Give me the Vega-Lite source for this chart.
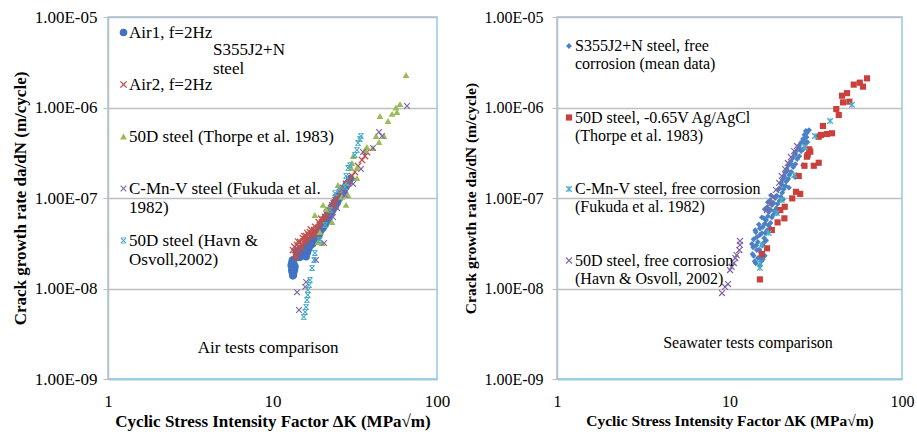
{
  "$schema": "https://vega.github.io/schema/vega-lite/v6.json",
  "padding": {"left": 10, "top": 7, "right": 5, "bottom": 5},
  "spacing": 12,
  "resolve": {
    "scale": {"x": "independent", "y": "independent", "color": "independent", "shape": "independent", "size": "independent"},
    "legend": {"color": "independent", "shape": "independent"}
  },
  "hconcat": [
    {
      "width": 329,
      "height": 362,
      "layer": [
        {
          "data": {
            "values": [
              {"s": "Air1", "k": 13.2, "r": 2.05e-8}, {"s": "Air1", "k": 13.1, "r": 1.9e-8}, {"s": "Air1", "k": 13.2, "r": 1.75e-8},
              {"s": "Air1", "k": 13.1, "r": 1.6e-8}, {"s": "Air1", "k": 13.2, "r": 1.5e-8}, {"s": "Air1", "k": 13.4, "r": 1.42e-8},
              {"s": "Air1", "k": 13.5, "r": 1.55e-8}, {"s": "Air1", "k": 13.4, "r": 1.7e-8}, {"s": "Air1", "k": 13.5, "r": 1.85e-8},
              {"s": "Air1", "k": 13.3, "r": 1.95e-8}, {"s": "Air1", "k": 13.6, "r": 1.62e-8}, {"s": "Air1", "k": 13.3, "r": 1.38e-8},
              {"s": "Air1", "k": 13.5, "r": 2.1e-8}, {"s": "Air1", "k": 13.0, "r": 1.8e-8}, {"s": "Air1", "k": 13.7, "r": 1.75e-8},
              {"s": "Air1", "k": 14.2, "r": 2.35e-8}, {"s": "Air1", "k": 14.3, "r": 2.55e-8},
              {"s": "Air1", "k": 14.6, "r": 2.7e-8}, {"s": "Air1", "k": 14.8, "r": 2.45e-8}, {"s": "Air1", "k": 15.0, "r": 2.3e-8},
              {"s": "Air1", "k": 15.2, "r": 2.6e-8}, {"s": "Air1", "k": 15.5, "r": 2.4e-8}, {"s": "Air1", "k": 15.7, "r": 2.55e-8},
              {"s": "Air1", "k": 15.9, "r": 2.35e-8}, {"s": "Air1", "k": 16.1, "r": 2.65e-8}, {"s": "Air1", "k": 15.3, "r": 2.85e-8},
              {"s": "Air1", "k": 16.4, "r": 2.9e-8}, {"s": "Air1", "k": 16.8, "r": 3.05e-8}, {"s": "Air1", "k": 16.2, "r": 3.2e-8},
              {"s": "Air1", "k": 17.0, "r": 3.4e-8}, {"s": "Air1", "k": 17.3, "r": 3.2e-8}, {"s": "Air1", "k": 17.5, "r": 3.6e-8},
              {"s": "Air1", "k": 17.8, "r": 3.45e-8}, {"s": "Air1", "k": 18.0, "r": 3.9e-8}, {"s": "Air1", "k": 18.3, "r": 3.7e-8},
              {"s": "Air1", "k": 18.6, "r": 4.2e-8}, {"s": "Air1", "k": 18.9, "r": 4.0e-8}, {"s": "Air1", "k": 19.2, "r": 4.5e-8},
              {"s": "Air1", "k": 19.5, "r": 4.3e-8}, {"s": "Air1", "k": 19.8, "r": 5.0e-8}, {"s": "Air1", "k": 20.1, "r": 4.8e-8},
              {"s": "Air1", "k": 20.4, "r": 5.5e-8}, {"s": "Air1", "k": 20.8, "r": 5.3e-8}, {"s": "Air1", "k": 21.0, "r": 6.1e-8},
              {"s": "Air1", "k": 21.4, "r": 5.9e-8}, {"s": "Air1", "k": 21.7, "r": 6.7e-8}, {"s": "Air1", "k": 22.1, "r": 6.4e-8},
              {"s": "Air1", "k": 22.4, "r": 7.4e-8}, {"s": "Air1", "k": 22.8, "r": 7.1e-8}, {"s": "Air1", "k": 23.2, "r": 8.2e-8},
              {"s": "Air1", "k": 23.6, "r": 7.9e-8}, {"s": "Air1", "k": 23.9, "r": 9.0e-8}, {"s": "Air1", "k": 24.4, "r": 8.8e-8},
              {"s": "Air1", "k": 24.7, "r": 9.9e-8}, {"s": "Air1", "k": 25.2, "r": 9.7e-8}, {"s": "Air1", "k": 25.6, "r": 1.09e-7},
              {"s": "Air1", "k": 26.1, "r": 1.06e-7}, {"s": "Air1", "k": 26.5, "r": 1.19e-7}, {"s": "Air1", "k": 27.0, "r": 1.17e-7},
              {"s": "Air1", "k": 27.4, "r": 1.3e-7}, {"s": "Air1", "k": 28.0, "r": 1.33e-7}, {"s": "Air1", "k": 28.5, "r": 1.44e-7},
              {"s": "Air1", "k": 29.2, "r": 1.52e-7}, {"s": "Air1", "k": 29.8, "r": 1.64e-7},
              {"s": "Air1", "k": 14.0, "r": 2.6e-8}, {"s": "Air1", "k": 14.5, "r": 2.4e-8}, {"s": "Air1", "k": 14.9, "r": 2.75e-8},
              {"s": "Air1", "k": 15.4, "r": 2.7e-8}, {"s": "Air1", "k": 15.8, "r": 2.8e-8}, {"s": "Air1", "k": 16.3, "r": 2.5e-8},
              {"s": "Air1", "k": 16.6, "r": 2.75e-8}, {"s": "Air1", "k": 17.1, "r": 3.0e-8}, {"s": "Air1", "k": 17.6, "r": 3.15e-8},
              {"s": "Air1", "k": 18.1, "r": 3.4e-8}, {"s": "Air1", "k": 18.5, "r": 3.55e-8}, {"s": "Air1", "k": 18.9, "r": 3.8e-8},
              {"s": "Air1", "k": 19.3, "r": 4.0e-8}, {"s": "Air1", "k": 19.8, "r": 4.5e-8}, {"s": "Air1", "k": 20.3, "r": 4.7e-8},
              {"s": "Air1", "k": 20.9, "r": 5.1e-8}, {"s": "Air1", "k": 21.5, "r": 5.6e-8}, {"s": "Air1", "k": 22.0, "r": 6.0e-8},
              {"s": "Air1", "k": 22.6, "r": 6.6e-8}, {"s": "Air1", "k": 23.3, "r": 7.4e-8}, {"s": "Air1", "k": 24.0, "r": 8.0e-8},
              {"s": "Air1", "k": 24.8, "r": 9.0e-8}, {"s": "Air1", "k": 25.5, "r": 1.0e-7}, {"s": "Air1", "k": 26.3, "r": 1.1e-7},
              {"s": "Air1", "k": 27.2, "r": 1.22e-7}, {"s": "Air1", "k": 28.1, "r": 1.4e-7}, {"s": "Air1", "k": 14.6, "r": 2.2e-8},
              {"s": "Air1", "k": 16.0, "r": 2.25e-8},

              {"s": "Air2", "k": 13.3, "r": 2.66e-8}, {"s": "Air2", "k": 13.7, "r": 2.34e-8}, {"s": "Air2", "k": 14.1, "r": 3.03e-8},
              {"s": "Air2", "k": 14.7, "r": 3.27e-8}, {"s": "Air2", "k": 15.1, "r": 2.8e-8}, {"s": "Air2", "k": 15.3, "r": 3.61e-8},
              {"s": "Air2", "k": 16.0, "r": 3.8e-8}, {"s": "Air2", "k": 16.4, "r": 3.44e-8}, {"s": "Air2", "k": 16.9, "r": 4.2e-8},
              {"s": "Air2", "k": 17.4, "r": 3.8e-8}, {"s": "Air2", "k": 17.9, "r": 4.43e-8}, {"s": "Air2", "k": 18.4, "r": 4.1e-8},
              {"s": "Air2", "k": 18.9, "r": 4.67e-8}, {"s": "Air2", "k": 19.4, "r": 5.04e-8}, {"s": "Air2", "k": 20.0, "r": 5.43e-8},
              {"s": "Air2", "k": 20.9, "r": 6.17e-8}, {"s": "Air2", "k": 21.7, "r": 7.0e-8}, {"s": "Air2", "k": 22.7, "r": 7.76e-8},
              {"s": "Air2", "k": 23.6, "r": 8.8e-8}, {"s": "Air2", "k": 24.7, "r": 1.03e-7}, {"s": "Air2", "k": 25.7, "r": 1.16e-7},
              {"s": "Air2", "k": 26.8, "r": 1.29e-7}, {"s": "Air2", "k": 28.0, "r": 1.43e-7}, {"s": "Air2", "k": 29.2, "r": 1.58e-7},
              {"s": "Air2", "k": 30.4, "r": 1.75e-7}, {"s": "Air2", "k": 31.7, "r": 1.94e-7}, {"s": "Air2", "k": 33.1, "r": 2.26e-7},
              {"s": "Air2", "k": 35.0, "r": 2.63e-7}, {"s": "Air2", "k": 36.5, "r": 2.91e-7}, {"s": "Air2", "k": 37.5, "r": 3.22e-7},
              {"s": "Air2", "k": 14.4, "r": 2.6e-8}, {"s": "Air2", "k": 15.6, "r": 3.2e-8}, {"s": "Air2", "k": 14.0, "r": 2.45e-8},
              {"s": "Air2", "k": 16.6, "r": 3.9e-8}, {"s": "Air2", "k": 15.8, "r": 3.5e-8},
              {"s": "Air2", "k": 13.6, "r": 2.9e-8}, {"s": "Air2", "k": 14.3, "r": 3.3e-8}, {"s": "Air2", "k": 14.9, "r": 3.1e-8},
              {"s": "Air2", "k": 15.6, "r": 3.8e-8}, {"s": "Air2", "k": 16.3, "r": 4.1e-8}, {"s": "Air2", "k": 17.1, "r": 4.5e-8},
              {"s": "Air2", "k": 17.7, "r": 4.0e-8}, {"s": "Air2", "k": 18.2, "r": 4.8e-8}, {"s": "Air2", "k": 19.1, "r": 5.4e-8},
              {"s": "Air2", "k": 19.8, "r": 5.9e-8}, {"s": "Air2", "k": 20.5, "r": 5.8e-8}, {"s": "Air2", "k": 21.3, "r": 6.6e-8},
              {"s": "Air2", "k": 22.2, "r": 7.3e-8}, {"s": "Air2", "k": 23.1, "r": 8.3e-8}, {"s": "Air2", "k": 24.2, "r": 9.5e-8},
              {"s": "Air2", "k": 13.9, "r": 2.2e-8}, {"s": "Air2", "k": 14.6, "r": 2.85e-8},

              {"s": "Thorpe 1983", "k": 64.8, "r": 2.29e-6}, {"s": "Thorpe 1983", "k": 59.6, "r": 1.09e-6}, {"s": "Thorpe 1983", "k": 56.3, "r": 1.0e-6},
              {"s": "Thorpe 1983", "k": 57.1, "r": 8.9e-7}, {"s": "Thorpe 1983", "k": 53.3, "r": 8.5e-7}, {"s": "Thorpe 1983", "k": 50.4, "r": 7.1e-7},
              {"s": "Thorpe 1983", "k": 45.0, "r": 8.05e-7}, {"s": "Thorpe 1983", "k": 47.6, "r": 4.84e-7}, {"s": "Thorpe 1983", "k": 42.6, "r": 4.84e-7},
              {"s": "Thorpe 1983", "k": 44.4, "r": 4.16e-7}, {"s": "Thorpe 1983", "k": 40.8, "r": 3.57e-7}, {"s": "Thorpe 1983", "k": 36.5, "r": 3.39e-7},
              {"s": "Thorpe 1983", "k": 30.9, "r": 2.91e-7}, {"s": "Thorpe 1983", "k": 32.6, "r": 2.14e-7}, {"s": "Thorpe 1983", "k": 32.6, "r": 1.66e-7},
              {"s": "Thorpe 1983", "k": 30.0, "r": 2.14e-7}, {"s": "Thorpe 1983", "k": 28.0, "r": 8.4e-8}, {"s": "Thorpe 1983", "k": 26.4, "r": 1.03e-7},
              {"s": "Thorpe 1983", "k": 25.0, "r": 1.39e-7}, {"s": "Thorpe 1983", "k": 23.0, "r": 5.43e-8}, {"s": "Thorpe 1983", "k": 21.1, "r": 7.55e-8},
              {"s": "Thorpe 1983", "k": 19.4, "r": 4.2e-8}, {"s": "Thorpe 1983", "k": 20.0, "r": 3.18e-8}, {"s": "Thorpe 1983", "k": 18.9, "r": 3.27e-8},
              {"s": "Thorpe 1983", "k": 28.4, "r": 1.47e-7}, {"s": "Thorpe 1983", "k": 30.4, "r": 2.44e-7}, {"s": "Thorpe 1983", "k": 20.3, "r": 8.4e-8},
              {"s": "Thorpe 1983", "k": 28.8, "r": 1.08e-7}, {"s": "Thorpe 1983", "k": 37.5, "r": 3.66e-7}, {"s": "Thorpe 1983", "k": 18.1, "r": 6.5e-8},

              {"s": "Fukuda 1982", "k": 14.1, "r": 9.1e-9}, {"s": "Fukuda 1982", "k": 16.0, "r": 1.18e-8}, {"s": "Fukuda 1982", "k": 15.8, "r": 1.04e-8},
              {"s": "Fukuda 1982", "k": 14.5, "r": 5.78e-9}, {"s": "Fukuda 1982", "k": 18.4, "r": 2.07e-8}, {"s": "Fukuda 1982", "k": 20.6, "r": 3.18e-8},
              {"s": "Fukuda 1982", "k": 28.8, "r": 1.47e-7}, {"s": "Fukuda 1982", "k": 30.9, "r": 1.43e-7}, {"s": "Fukuda 1982", "k": 27.6, "r": 1.08e-7},
              {"s": "Fukuda 1982", "k": 24.7, "r": 7.76e-8}, {"s": "Fukuda 1982", "k": 23.3, "r": 6.17e-8}, {"s": "Fukuda 1982", "k": 34.5, "r": 2.09e-7},
              {"s": "Fukuda 1982", "k": 35.5, "r": 3.22e-7}, {"s": "Fukuda 1982", "k": 40.8, "r": 3.57e-7}, {"s": "Fukuda 1982", "k": 44.4, "r": 5.36e-7},
              {"s": "Fukuda 1982", "k": 46.3, "r": 4.84e-7}, {"s": "Fukuda 1982", "k": 65.7, "r": 1.04e-6},

              {"s": "Havn 2002", "k": 15.5, "r": 4.84e-9}, {"s": "Havn 2002", "k": 15.8, "r": 5.5e-9}, {"s": "Havn 2002", "k": 16.0, "r": 6.25e-9},
              {"s": "Havn 2002", "k": 16.2, "r": 7.46e-9}, {"s": "Havn 2002", "k": 16.4, "r": 8.5e-9}, {"s": "Havn 2002", "k": 16.4, "r": 9.6e-9},
              {"s": "Havn 2002", "k": 16.7, "r": 1.09e-8}, {"s": "Havn 2002", "k": 16.9, "r": 1.24e-8}, {"s": "Havn 2002", "k": 17.4, "r": 1.69e-8},
              {"s": "Havn 2002", "k": 17.9, "r": 2.07e-8}, {"s": "Havn 2002", "k": 18.1, "r": 2.47e-8}, {"s": "Havn 2002", "k": 19.4, "r": 3.44e-8},
              {"s": "Havn 2002", "k": 20.9, "r": 5.04e-8}, {"s": "Havn 2002", "k": 22.4, "r": 7.36e-8}, {"s": "Havn 2002", "k": 24.0, "r": 1.13e-7},
              {"s": "Havn 2002", "k": 25.7, "r": 1.23e-7}, {"s": "Havn 2002", "k": 27.6, "r": 1.32e-7}, {"s": "Havn 2002", "k": 28.0, "r": 1.75e-7},
              {"s": "Havn 2002", "k": 28.8, "r": 2.14e-7}, {"s": "Havn 2002", "k": 29.6, "r": 2.32e-7}, {"s": "Havn 2002", "k": 31.7, "r": 2.99e-7},
              {"s": "Havn 2002", "k": 32.6, "r": 3.39e-7}, {"s": "Havn 2002", "k": 33.1, "r": 4.05e-7}, {"s": "Havn 2002", "k": 34.0, "r": 4.49e-7},
              {"s": "Havn 2002", "k": 34.5, "r": 4.84e-7}
            ]
          },
          "mark": {"type": "point", "filled": true, "opacity": 1, "strokeWidth": 0},
          "encoding": {
            "x": {
              "field": "k", "type": "quantitative",
              "scale": {"type": "log", "domain": [1, 100]},
              "title": "Cyclic Stress Intensity Factor ΔK (MPa√m)",
              "axis": {"values": [1, 10, 100], "format": "d", "labelFlush": false, "grid": false, "ticks": false, "domainColor": "#92c9e8", "domainWidth": 1.5, "labelPadding": 14, "titlePadding": 4}
            },
            "y": {
              "field": "r", "type": "quantitative",
              "scale": {"type": "log", "domain": [1e-9, 1e-5]},
              "title": "Crack growth rate da/dN (m/cycle)",
              "axis": {"values": [1e-9, 1e-8, 1e-7, 1e-6, 1e-5], "labelExpr": "'1.00E-0' + round(-log(datum.value) / LN10)", "grid": true, "gridColor": "#bfbfbf", "gridWidth": 1.5, "domainColor": "#bfbfbf", "domainWidth": 1.5, "tickColor": "#bfbfbf", "tickSize": 5, "labelPadding": 6, "titlePadding": 5}
            },
            "color": {
              "field": "s", "type": "nominal",
              "scale": {"domain": ["Air1", "Air2", "Thorpe 1983", "Fukuda 1982", "Havn 2002"], "range": ["#4173c2", "#c0504d", "#9bbb59", "#8064a2", "#4bacc6"]},
              "legend": {
                "title": null, "orient": "none", "legendX": 7, "legendY": 7,
                "rowPadding": 15, "labelOffset": -3, "symbolSize": 40,
                "labelExpr": "datum.label == 'Air1' ? ['Air1, f=2Hz', ''] : datum.label == 'Air2' ? ['Air2, f=2Hz', ''] : datum.label == 'Thorpe 1983' ? ['50D steel (Thorpe et al. 1983)', ''] : datum.label == 'Fukuda 1982' ? ['C-Mn-V steel (Fukuda et al.', '1982)'] : ['50D steel (Havn &', 'Osvoll,2002)']",
                "encode": {"labels": {"update": {"lineHeight": {"value": 21}}}}
              }
            },
            "shape": {
              "field": "s", "type": "nominal",
              "scale": {
                "domain": ["Air1", "Air2", "Thorpe 1983", "Fukuda 1982", "Havn 2002"],
                "range": [
                  "circle",
                  "M-1,-0.75L-0.75,-1L0,-0.25L0.75,-1L1,-0.75L0.25,0L1,0.75L0.75,1L0,0.25L-0.75,1L-1,0.75L-0.25,0Z",
                  "triangle-up",
                  "M-1,-0.75L-0.75,-1L0,-0.25L0.75,-1L1,-0.75L0.25,0L1,0.75L0.75,1L0,0.25L-0.75,1L-1,0.75L-0.25,0Z",
                  "M-1,-0.75L-0.75,-1L0,-0.25L0.75,-1L1,-0.75L0.25,0L1,0.75L0.75,1L0,0.25L-0.75,1L-1,0.75L-0.25,0Z M-0.85,-1L0.85,-1L0.85,-0.72L-0.85,-0.72Z M-0.85,0.72L0.85,0.72L0.85,1L-0.85,1Z"
                ]
              }
            },
            "size": {
              "field": "s", "type": "nominal",
              "scale": {"domain": ["Air1", "Air2", "Thorpe 1983", "Fukuda 1982", "Havn 2002"], "range": [58, 36, 42, 36, 36]},
              "legend": null
            }
          }
        },
        {
          "data": {"values": [{"note": "Air tests comparison"}]},
          "mark": {"type": "text", "align": "center", "baseline": "middle", "fontSize": 17},
          "encoding": {
            "x": {"datum": 9.4, "type": "quantitative"},
            "y": {"datum": 2.2e-9, "type": "quantitative"},
            "text": {"field": "note"}
          }
        },
        {
          "data": {"values": [{}]},
          "mark": {"type": "text", "align": "left", "baseline": "middle", "fontSize": 17, "lineHeight": 19, "text": ["S355J2+N", "steel"]},
          "encoding": {
            "x": {"datum": 4.35, "type": "quantitative"},
            "y": {"datum": 4.35e-6, "type": "quantitative"}
          }
        }
      ]
    },
    {
      "width": 345,
      "height": 362,
      "layer": [
        {
          "data": {
            "values": [
              {"s": "S355J2+N", "k": 15.0, "r": 1.77e-8}, {"s": "S355J2+N", "k": 14.6, "r": 2.17e-8}, {"s": "S355J2+N", "k": 14.4, "r": 2.66e-8},
              {"s": "S355J2+N", "k": 14.6, "r": 3.27e-8}, {"s": "S355J2+N", "k": 15.0, "r": 3.9e-8}, {"s": "S355J2+N", "k": 15.6, "r": 4.78e-8},
              {"s": "S355J2+N", "k": 16.3, "r": 5.71e-8}, {"s": "S355J2+N", "k": 16.9, "r": 7.0e-8}, {"s": "S355J2+N", "k": 17.6, "r": 8.37e-8},
              {"s": "S355J2+N", "k": 18.4, "r": 1.0e-7}, {"s": "S355J2+N", "k": 19.1, "r": 1.23e-7}, {"s": "S355J2+N", "k": 19.9, "r": 1.47e-7},
              {"s": "S355J2+N", "k": 20.7, "r": 1.75e-7}, {"s": "S355J2+N", "k": 21.5, "r": 2.09e-7}, {"s": "S355J2+N", "k": 22.7, "r": 2.56e-7},
              {"s": "S355J2+N", "k": 24.0, "r": 3.14e-7}, {"s": "S355J2+N", "k": 25.3, "r": 3.76e-7}, {"s": "S355J2+N", "k": 26.7, "r": 4.49e-7},
              {"s": "S355J2+N", "k": 28.1, "r": 5.22e-7}, {"s": "S355J2+N", "k": 28.9, "r": 5.63e-7},
              {"s": "S355J2+N", "k": 14.2, "r": 1.9e-8}, {"s": "S355J2+N", "k": 13.8, "r": 2.3e-8}, {"s": "S355J2+N", "k": 13.7, "r": 2.85e-8},
              {"s": "S355J2+N", "k": 13.8, "r": 3.5e-8}, {"s": "S355J2+N", "k": 14.2, "r": 4.2e-8}, {"s": "S355J2+N", "k": 14.8, "r": 5.1e-8},
              {"s": "S355J2+N", "k": 15.4, "r": 6.1e-8}, {"s": "S355J2+N", "k": 16.0, "r": 7.5e-8}, {"s": "S355J2+N", "k": 16.7, "r": 9.0e-8},
              {"s": "S355J2+N", "k": 17.4, "r": 1.07e-7},
              {"s": "S355J2+N", "k": 15.3, "r": 2.0e-8}, {"s": "S355J2+N", "k": 15.2, "r": 2.5e-8}, {"s": "S355J2+N", "k": 15.5, "r": 3.0e-8},
              {"s": "S355J2+N", "k": 15.9, "r": 3.6e-8}, {"s": "S355J2+N", "k": 16.5, "r": 4.4e-8}, {"s": "S355J2+N", "k": 17.3, "r": 5.3e-8},
              {"s": "S355J2+N", "k": 17.9, "r": 6.5e-8}, {"s": "S355J2+N", "k": 18.7, "r": 7.7e-8}, {"s": "S355J2+N", "k": 19.5, "r": 9.3e-8},
              {"s": "S355J2+N", "k": 20.2, "r": 1.14e-7}, {"s": "S355J2+N", "k": 21.1, "r": 1.36e-7}, {"s": "S355J2+N", "k": 21.9, "r": 1.62e-7},
              {"s": "S355J2+N", "k": 22.8, "r": 1.94e-7}, {"s": "S355J2+N", "k": 24.1, "r": 2.37e-7}, {"s": "S355J2+N", "k": 25.4, "r": 2.9e-7},
              {"s": "S355J2+N", "k": 26.8, "r": 3.48e-7}, {"s": "S355J2+N", "k": 28.3, "r": 4.15e-7},
              {"s": "S355J2+N", "k": 16.0, "r": 2.3e-8}, {"s": "S355J2+N", "k": 16.3, "r": 3.4e-8}, {"s": "S355J2+N", "k": 17.3, "r": 4.6e-8},
              {"s": "S355J2+N", "k": 18.8, "r": 6.8e-8}, {"s": "S355J2+N", "k": 20.4, "r": 9.6e-8}, {"s": "S355J2+N", "k": 22.1, "r": 1.3e-7},
              {"s": "S355J2+N", "k": 24.0, "r": 1.7e-7}, {"s": "S355J2+N", "k": 26.7, "r": 2.3e-7}, {"s": "S355J2+N", "k": 28.5, "r": 3.0e-7},
              {"s": "S355J2+N", "k": 13.6, "r": 2.4e-8}, {"s": "S355J2+N", "k": 13.5, "r": 3.1e-8}, {"s": "S355J2+N", "k": 14.1, "r": 4.4e-8},
              {"s": "S355J2+N", "k": 14.0, "r": 2.0e-8}, {"s": "S355J2+N", "k": 14.9, "r": 2.2e-8}, {"s": "S355J2+N", "k": 15.6, "r": 2.1e-8},
              {"s": "S355J2+N", "k": 14.9, "r": 2.7e-8}, {"s": "S355J2+N", "k": 14.3, "r": 3.0e-8}, {"s": "S355J2+N", "k": 15.8, "r": 3.2e-8},
              {"s": "S355J2+N", "k": 14.4, "r": 3.7e-8}, {"s": "S355J2+N", "k": 15.4, "r": 4.1e-8}, {"s": "S355J2+N", "k": 16.1, "r": 4.1e-8},
              {"s": "S355J2+N", "k": 15.0, "r": 4.6e-8}, {"s": "S355J2+N", "k": 16.0, "r": 5.2e-8}, {"s": "S355J2+N", "k": 16.8, "r": 5.0e-8},
              {"s": "S355J2+N", "k": 15.8, "r": 6.0e-8}, {"s": "S355J2+N", "k": 16.7, "r": 6.3e-8}, {"s": "S355J2+N", "k": 17.6, "r": 6.1e-8},
              {"s": "S355J2+N", "k": 16.5, "r": 7.9e-8}, {"s": "S355J2+N", "k": 17.3, "r": 7.4e-8}, {"s": "S355J2+N", "k": 18.2, "r": 7.2e-8},
              {"s": "S355J2+N", "k": 17.2, "r": 9.4e-8}, {"s": "S355J2+N", "k": 18.0, "r": 8.8e-8}, {"s": "S355J2+N", "k": 19.0, "r": 8.6e-8},
              {"s": "S355J2+N", "k": 18.8, "r": 1.06e-7}, {"s": "S355J2+N", "k": 19.8, "r": 1.03e-7},
              {"s": "S355J2+N", "k": 19.5, "r": 1.28e-7}, {"s": "S355J2+N", "k": 20.6, "r": 1.25e-7}, {"s": "S355J2+N", "k": 20.1, "r": 1.4e-7},
              {"s": "S355J2+N", "k": 20.3, "r": 1.6e-7}, {"s": "S355J2+N", "k": 21.3, "r": 1.52e-7}, {"s": "S355J2+N", "k": 20.8, "r": 1.7e-7},
              {"s": "S355J2+N", "k": 21.0, "r": 1.9e-7}, {"s": "S355J2+N", "k": 22.2, "r": 1.8e-7}, {"s": "S355J2+N", "k": 21.6, "r": 2.0e-7},
              {"s": "S355J2+N", "k": 22.0, "r": 2.3e-7}, {"s": "S355J2+N", "k": 23.4, "r": 2.2e-7}, {"s": "S355J2+N", "k": 22.7, "r": 2.4e-7},
              {"s": "S355J2+N", "k": 23.3, "r": 2.8e-7}, {"s": "S355J2+N", "k": 24.7, "r": 2.7e-7}, {"s": "S355J2+N", "k": 24.0, "r": 3.0e-7},
              {"s": "S355J2+N", "k": 24.7, "r": 3.4e-7}, {"s": "S355J2+N", "k": 26.0, "r": 3.3e-7}, {"s": "S355J2+N", "k": 25.3, "r": 3.6e-7},
              {"s": "S355J2+N", "k": 26.0, "r": 4.1e-7}, {"s": "S355J2+N", "k": 27.5, "r": 4.0e-7}, {"s": "S355J2+N", "k": 27.0, "r": 4.4e-7},
              {"s": "S355J2+N", "k": 27.2, "r": 5.0e-7}, {"s": "S355J2+N", "k": 28.0, "r": 4.7e-7}, {"s": "S355J2+N", "k": 27.7, "r": 5.5e-7},

              {"s": "Thorpe 1983", "k": 62.7, "r": 2.1e-6}, {"s": "Thorpe 1983", "k": 56.9, "r": 1.88e-6}, {"s": "Thorpe 1983", "k": 59.4, "r": 1.7e-6},
              {"s": "Thorpe 1983", "k": 52.5, "r": 1.79e-6}, {"s": "Thorpe 1983", "k": 48.0, "r": 1.44e-6}, {"s": "Thorpe 1983", "k": 44.9, "r": 1.35e-6},
              {"s": "Thorpe 1983", "k": 45.5, "r": 1.14e-6}, {"s": "Thorpe 1983", "k": 49.5, "r": 1.16e-6}, {"s": "Thorpe 1983", "k": 41.6, "r": 9.6e-7},
              {"s": "Thorpe 1983", "k": 43.0, "r": 8.26e-7}, {"s": "Thorpe 1983", "k": 34.8, "r": 6.25e-7}, {"s": "Thorpe 1983", "k": 39.3, "r": 5.19e-7},
              {"s": "Thorpe 1983", "k": 36.7, "r": 5.09e-7}, {"s": "Thorpe 1983", "k": 33.9, "r": 4.97e-7}, {"s": "Thorpe 1983", "k": 32.9, "r": 4.75e-7},
              {"s": "Thorpe 1983", "k": 29.4, "r": 3.25e-7}, {"s": "Thorpe 1983", "k": 28.1, "r": 2.86e-7}, {"s": "Thorpe 1983", "k": 27.2, "r": 2.27e-7},
              {"s": "Thorpe 1983", "k": 30.8, "r": 2.27e-7}, {"s": "Thorpe 1983", "k": 32.9, "r": 2.45e-7}, {"s": "Thorpe 1983", "k": 25.2, "r": 1.75e-7},
              {"s": "Thorpe 1983", "k": 24.3, "r": 1.17e-7}, {"s": "Thorpe 1983", "k": 25.7, "r": 1.11e-7}, {"s": "Thorpe 1983", "k": 23.1, "r": 9.9e-8},
              {"s": "Thorpe 1983", "k": 20.9, "r": 8.0e-8}, {"s": "Thorpe 1983", "k": 19.7, "r": 7.36e-8}, {"s": "Thorpe 1983", "k": 20.8, "r": 5.96e-8},
              {"s": "Thorpe 1983", "k": 19.0, "r": 5.38e-8}, {"s": "Thorpe 1983", "k": 17.6, "r": 4.43e-8}, {"s": "Thorpe 1983", "k": 16.5, "r": 2.78e-8},
              {"s": "Thorpe 1983", "k": 15.4, "r": 2.4e-8}, {"s": "Thorpe 1983", "k": 15.0, "r": 1.26e-8}, {"s": "Thorpe 1983", "k": 29.0, "r": 3.45e-7},
              {"s": "Thorpe 1983", "k": 28.4, "r": 3.0e-7},

              {"s": "Fukuda 1982", "k": 51.3, "r": 1.07e-6}, {"s": "Fukuda 1982", "k": 38.3, "r": 7.1e-7}, {"s": "Fukuda 1982", "k": 31.3, "r": 4.84e-7},
              {"s": "Fukuda 1982", "k": 27.4, "r": 3.66e-7}, {"s": "Fukuda 1982", "k": 23.7, "r": 1.8e-7}, {"s": "Fukuda 1982", "k": 20.1, "r": 9.5e-8},
              {"s": "Fukuda 1982", "k": 18.8, "r": 6.83e-8}, {"s": "Fukuda 1982", "k": 16.9, "r": 4.1e-8}, {"s": "Fukuda 1982", "k": 15.4, "r": 3.03e-8},
              {"s": "Fukuda 1982", "k": 15.0, "r": 1.91e-8}, {"s": "Fukuda 1982", "k": 15.0, "r": 1.69e-8},

              {"s": "Havn 2002", "k": 9.05, "r": 8.9e-9}, {"s": "Havn 2002", "k": 9.42, "r": 1.04e-8}, {"s": "Havn 2002", "k": 9.8, "r": 1.12e-8},
              {"s": "Havn 2002", "k": 10.07, "r": 1.6e-8}, {"s": "Havn 2002", "k": 10.3, "r": 1.73e-8}, {"s": "Havn 2002", "k": 10.6, "r": 1.91e-8},
              {"s": "Havn 2002", "k": 10.8, "r": 2.17e-8}, {"s": "Havn 2002", "k": 11.0, "r": 2.34e-8}, {"s": "Havn 2002", "k": 11.4, "r": 2.66e-8},
              {"s": "Havn 2002", "k": 11.5, "r": 3.03e-8}, {"s": "Havn 2002", "k": 11.5, "r": 3.35e-8},
              {"s": "Havn 2002", "k": 16.5, "r": 7.36e-8}, {"s": "Havn 2002", "k": 17.2, "r": 8.6e-8}, {"s": "Havn 2002", "k": 17.9, "r": 1.03e-7},
              {"s": "Havn 2002", "k": 18.6, "r": 1.23e-7}, {"s": "Havn 2002", "k": 19.4, "r": 1.47e-7}, {"s": "Havn 2002", "k": 20.1, "r": 1.75e-7},
              {"s": "Havn 2002", "k": 21.0, "r": 2.09e-7}, {"s": "Havn 2002", "k": 21.8, "r": 2.44e-7}, {"s": "Havn 2002", "k": 22.7, "r": 2.84e-7},
              {"s": "Havn 2002", "k": 23.7, "r": 3.3e-7}, {"s": "Havn 2002", "k": 24.6, "r": 3.76e-7}
            ]
          },
          "mark": {"type": "point", "filled": true, "opacity": 1, "strokeWidth": 0},
          "encoding": {
            "x": {
              "field": "k", "type": "quantitative",
              "scale": {"type": "log", "domain": [1, 100]},
              "title": "Cyclic Stress Intensity Factor ΔK (MPa√m)",
              "axis": {"values": [1, 10, 100], "format": "d", "labelFlush": false, "grid": false, "ticks": false, "domainColor": "#92c9e8", "domainWidth": 1.5, "labelPadding": 14, "titlePadding": 4, "labelFontSize": 16, "titleFontSize": 15.5}
            },
            "y": {
              "field": "r", "type": "quantitative",
              "scale": {"type": "log", "domain": [1e-9, 1e-5]},
              "title": "Crack growth rate da/dN (m/cycle)",
              "axis": {"values": [1e-9, 1e-8, 1e-7, 1e-6, 1e-5], "labelExpr": "'1.00E-0' + round(-log(datum.value) / LN10)", "grid": true, "gridColor": "#bfbfbf", "gridWidth": 1.5, "domainColor": "#bfbfbf", "domainWidth": 1.5, "tickColor": "#bfbfbf", "tickSize": 5, "labelPadding": 9, "titlePadding": 5, "labelFontSize": 16, "titleFontSize": 15.5}
            },
            "color": {
              "field": "s", "type": "nominal",
              "scale": {"domain": ["S355J2+N", "Thorpe 1983", "Fukuda 1982", "Havn 2002"], "range": ["#4a80c6", "#c9403d", "#4bacc6", "#8064a2"]},
              "legend": {
                "title": null, "orient": "none", "legendX": 4, "legendY": 21,
                "rowPadding": 37.5, "labelOffset": -2, "symbolSize": 28, "labelFontSize": 16,
                "labelExpr": "datum.label == 'S355J2+N' ? ['S355J2+N steel, free', 'corrosion (mean data)'] : datum.label == 'Thorpe 1983' ? ['50D steel, -0.65V Ag/AgCl', '(Thorpe et al. 1983)'] : datum.label == 'Fukuda 1982' ? ['C-Mn-V steel, free corrosion', '(Fukuda et al. 1982)'] : ['50D steel, free corrosion', '(Havn & Osvoll, 2002)']",
                "encode": {"labels": {"update": {"lineHeight": {"value": 21}}}}
              }
            },
            "shape": {
              "field": "s", "type": "nominal",
              "scale": {
                "domain": ["S355J2+N", "Thorpe 1983", "Fukuda 1982", "Havn 2002"],
                "range": [
                  "diamond",
                  "square",
                  "M-1,-0.72L-0.72,-1L0,-0.28L0.72,-1L1,-0.72L0.28,0L1,0.72L0.72,1L0,0.28L-0.72,1L-1,0.72L-0.28,0Z M-0.14,-1L0.14,-1L0.14,1L-0.14,1Z",
                  "M-1,-0.75L-0.75,-1L0,-0.25L0.75,-1L1,-0.75L0.25,0L1,0.75L0.75,1L0,0.25L-0.75,1L-1,0.75L-0.25,0Z"
                ]
              }
            },
            "size": {
              "field": "s", "type": "nominal",
              "scale": {"domain": ["S355J2+N", "Thorpe 1983", "Fukuda 1982", "Havn 2002"], "range": [34, 46, 130, 30]},
              "legend": null
            }
          }
        },
        {
          "data": {"values": [{"note": "Seawater tests comparison"}]},
          "mark": {"type": "text", "align": "center", "baseline": "middle", "fontSize": 16},
          "encoding": {
            "x": {"datum": 12.8, "type": "quantitative"},
            "y": {"datum": 2.5e-9, "type": "quantitative"},
            "text": {"field": "note"}
          }
        }
      ]
    }
  ],
  "config": {
    "background": "white",
    "view": {"stroke": "#92c9e8", "strokeWidth": 1.5},
    "axis": {
      "labelFont": "Liberation Serif", "labelFontSize": 17, "labelColor": "#000000",
      "titleFont": "Liberation Serif", "titleFontSize": 17, "titleFontWeight": "bold", "titleColor": "#000000"
    },
    "legend": {
      "labelFont": "Liberation Serif", "labelFontSize": 17, "labelColor": "#000000",
      "labelLimit": 400, "padding": 0, "symbolOffset": 0, "symbolStrokeWidth": 0, "columns": 1
    },
    "text": {"font": "Liberation Serif", "fontSize": 17, "color": "#000000"}
  }
}
